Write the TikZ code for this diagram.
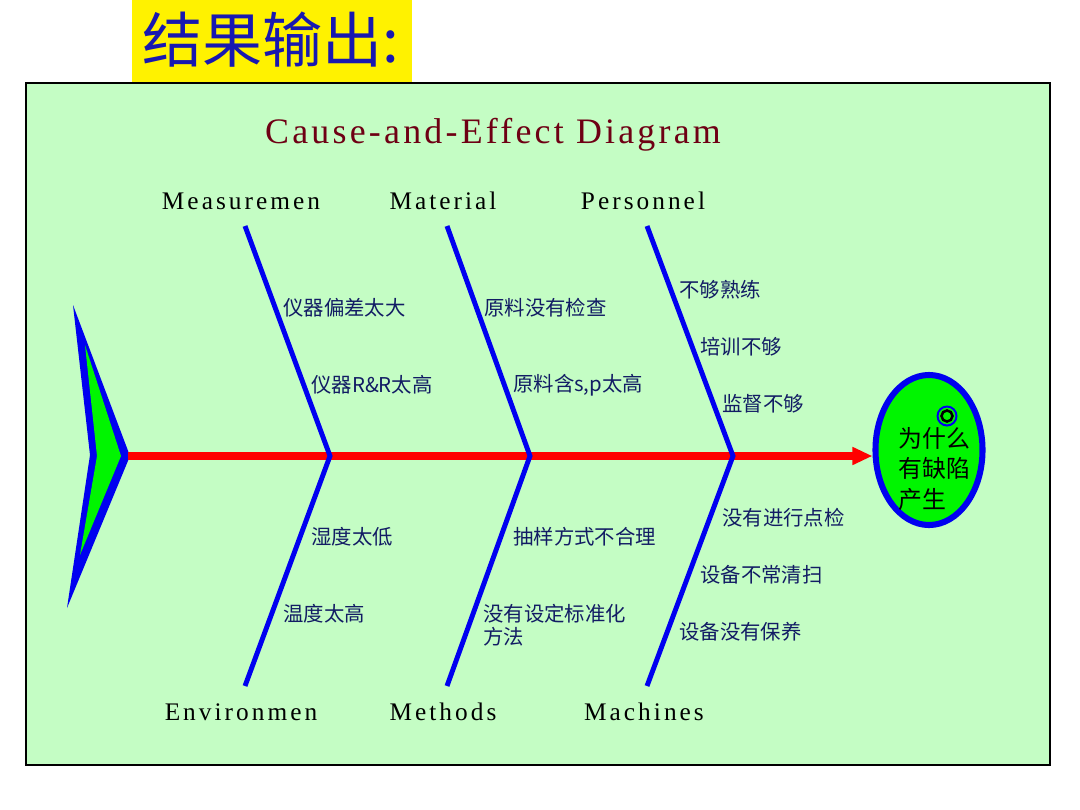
\documentclass[tikz,border=0pt]{standalone}
\usepackage{fontspec}
\setmainfont{Liberation Serif}
\newfontfamily\cjk{Noto Sans CJK SC}
\newfontfamily\catfont[LetterSpace=12]{Liberation Serif}
\newfontfamily\headfont[LetterSpace=9]{Liberation Serif}
\usetikzlibrary{arrows.meta,shapes.geometric}
\definecolor{bannerblue}{RGB}{24,24,176}
\definecolor{panelgreen}{RGB}{196,253,196}
\definecolor{titlered}{RGB}{110,0,20}
\definecolor{boneblue}{RGB}{0,0,240}
\definecolor{causenavy}{RGB}{18,28,100}
\definecolor{spinered}{RGB}{255,0,0}
\definecolor{fishgreen}{RGB}{0,245,0}
\tikzset{
  bone/.style={draw=boneblue, line width=3.5pt, line join=miter},
  spine/.style={-{Triangle[length=0.5cm,width=0.42cm]}, draw=spinered, line width=5pt},
  catlabel/.style={inner sep=0pt, font=\catfont\fontsize{18}{20}\selectfont},
  causelabel/.style={anchor=west, inner sep=0pt, text=causenavy, align=left, font=\cjk\fontsize{14.5}{16}\selectfont},
  headbox/.style={ellipse, draw=boneblue, line width=4.3pt, fill=fishgreen, minimum width=2.675cm, minimum height=3.75cm, inner sep=0pt}
}

\begin{document}
\begin{tikzpicture}[x=0.025cm, y=-0.025cm]
  \useasboundingbox[fill=white] (0,0) rectangle (1080,810);
  % banner and panel
  \fill[yellow] (132,0) rectangle (412,82);
  \node[inner sep=0pt, text=bannerblue, font=\cjk\fontsize{42.7}{44}\selectfont] (banner) at (271,40) {结果输出:};
  \draw[black, line width=1.1pt, fill=panelgreen] (26,83) rectangle (1050,765);
  \node[inner sep=0pt, text=titlered, font=\headfont\fontsize{25.5}{28}\selectfont] (title) at (493,135) {Cause-and-Effect Diagram};

  % fish tail
  \fill[boneblue] (73,305) -- (130,456) -- (67,608) -- (90,455) -- cycle;
  \fill[fishgreen] (85,345) -- (121,456) -- (80,555) -- (97,456) -- cycle;

  % head
  \node[headbox] (head) at (929,450) {};
  \draw[boneblue, line width=1.4pt] (947,416) circle [radius=9.5];
  \draw[black, line width=1.8pt] (947,416) circle [radius=5.5];
  \node[anchor=west, inner sep=0pt, align=left, font=\cjk\fontsize{17}{21.5}\selectfont] (effect) at (898,469) {为什么\\有缺陷\\产生};

  % spine
  \coordinate (tail) at (128,456);
  \draw[spine] (tail) -- (tail -| head.west);

  % bones
  \coordinate (j1) at (330,456);
  \coordinate (j2) at (530,456);
  \coordinate (j3) at (733,456);
  \coordinate (meastop) at (245,226);
  \coordinate (mattop) at (447,226);
  \coordinate (pertop) at (647,226);
  \coordinate (envbot) at (245,686);
  \coordinate (methbot) at (447,686);
  \coordinate (machbot) at (647,686);
  \draw[bone] (meastop) -- (j1) -- (envbot);
  \draw[bone] (mattop) -- (j2) -- (methbot);
  \draw[bone] (pertop) -- (j3) -- (machbot);

  % categories
  \node[catlabel] (meas) at (241,201) {Measuremen};
  \node[catlabel] (mat) at (443,201) {Material};
  \node[catlabel] (per) at (643,201) {Personnel};
  \node[catlabel] (env) at (241,712) {Environmen};
  \node[catlabel] (meth) at (443,712) {Methods};
  \node[catlabel] (mach) at (644,712) {Machines};

  % causes
  \node[causelabel] (c11) at (283,308) {仪器偏差太大};
  \node[causelabel] (c12) at (311,385) {仪器R\&R太高};
  \node[causelabel] (c21) at (484,308) {原料没有检查};
  \node[causelabel] (c22) at (513,385) {原料含s,p太高};
  \node[causelabel] (c31) at (679,290) {不够熟练};
  \node[causelabel] (c32) at (700,347) {培训不够};
  \node[causelabel] (c33) at (722,404) {监督不够};
  \node[causelabel] (c41) at (311,537) {湿度太低};
  \node[causelabel] (c42) at (283,614) {温度太高};
  \node[causelabel] (c51) at (513,537) {抽样方式不合理};
  \node[causelabel] (c52) at (483,625) {没有设定标准化\\方法};
  \node[causelabel] (c61) at (722,518) {没有进行点检};
  \node[causelabel] (c62) at (700,575) {设备不常清扫};
  \node[causelabel] (c63) at (679,632) {设备没有保养};
\end{tikzpicture}
\end{document}
